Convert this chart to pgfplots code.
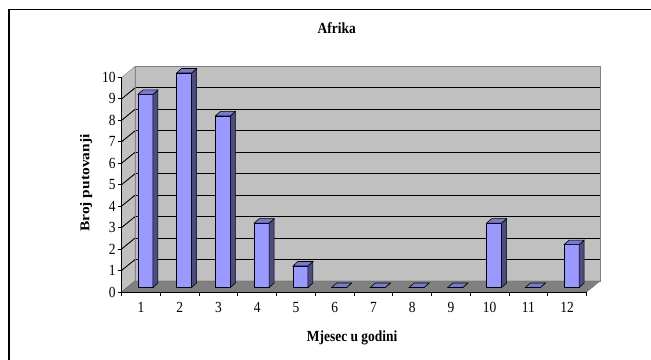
\documentclass[border=0pt]{standalone}
\usepackage{fontspec}
\setmainfont{Liberation Serif}
\usepackage{graphicx}
\usepackage{pgfplots}
\usepackage{pgfplotstable}
\pgfplotsset{compat=1.18}

\definecolor{wall}{HTML}{C0C0C0}
\definecolor{floorc}{HTML}{808080}
\definecolor{barfront}{HTML}{9999FF}
\definecolor{bartop}{HTML}{7878CC}
\definecolor{barside}{HTML}{4C4C80}

\newcommand\st[1]{\scalebox{1}[1.15]{#1}}

\pgfplotstableread{
x y
1 9
2 10
3 8
4 3
5 1
6 0
7 0
8 0
9 0
10 3
11 0
12 2
}\afrika

% side and top faces of a bar, drawn at the top middle of its front face
\pgfdeclareplotmark{cubetop}{%
  \pgfmathsetmacro\hh{\rawy*21.45}%
  \pgfsetfillcolor{barside}%
  \pgfpathmoveto{\pgfpoint{7.5bp}{0bp}}%
  \pgfpathlineto{\pgfpoint{12.5bp}{4.5bp}}%
  \pgfpathlineto{\pgfpoint{12.5bp}{4.5bp-\hh bp}}%
  \pgfpathlineto{\pgfpoint{7.5bp}{-\hh bp}}%
  \pgfpathclose
  \pgfusepath{fill,stroke}%
  \pgfsetfillcolor{bartop}%
  \pgfpathmoveto{\pgfpoint{-7.5bp}{0bp}}%
  \pgfpathlineto{\pgfpoint{7.5bp}{0bp}}%
  \pgfpathlineto{\pgfpoint{12.5bp}{4.5bp}}%
  \pgfpathlineto{\pgfpoint{-2.5bp}{4.5bp}}%
  \pgfpathclose
  \pgfusepath{fill,stroke}%
}

\pgfplotsset{
  box/.style={scale only axis, width=465bp, height=214.5bp,
    xmin=0.5, xmax=12.5, ymin=0, ymax=10, anchor=south west},
}

\begin{document}
\begin{tikzpicture}
\useasboundingbox (0,0) rectangle (651bp,360bp);
\draw[line width=1.5bp] (9bp,0) -- (9bp,350.5bp) -- (651bp,350.5bp);

% back wall
\begin{axis}[box, at={(135bp,79bp)},
  axis background/.style={fill=wall},
  axis line style={draw=floorc},
  xtick=\empty, ytick={1,...,9}, yticklabels={},
  major tick length=0pt,
  ymajorgrids, grid style={black, line width=0.9bp}]
\end{axis}

% left wall and floor
\fill[wall, draw=floorc] (121.5bp,68bp) -- (135bp,79bp) -- (135bp,293.5bp) -- (121.5bp,282.5bp) -- cycle;
\foreach \k in {1,...,9}
  \draw[black, line width=0.9bp] (121.5bp,68bp+\k*21.45bp) -- ++(13.5bp,11bp);
\fill[floorc, draw=gray!80!black] (121.5bp,68bp) -- (586.5bp,68bp) -- (600bp,79bp) -- (135bp,79bp) -- cycle;

% bars
\begin{axis}[box, at={(126bp,72.5bp)}, hide axis, clip=false]
\addplot[ybar, bar width=15bp, fill=barfront, draw=black, line width=0.6bp]
  table[x=x, y=y] {\afrika};
\addplot[only marks, mark=cubetop, draw=black, line width=0.6bp,
  visualization depends on={y \as \rawy}]
  table[x=x, y=y] {\afrika};
\end{axis}

% front axis
\begin{axis}[box, at={(121.5bp,68bp)},
  axis x line*=bottom, axis y line*=left,
  axis line style={black, line width=0.9bp},
  tick style={black, line width=0.9bp},
  tick align=outside, major tick length=4bp,
  xtick={0.5,1.5,...,12.5},
  xticklabels={\st{1},\st{2},\st{3},\st{4},\st{5},\st{6},\st{7},\st{8},\st{9},\st{10},\st{11},\st{12},{}},
  xticklabel style={xshift=19.375bp, yshift=-3bp},
  ytick={0,...,10},
  yticklabels={\st{0},\st{1},\st{2},\st{3},\st{4},\st{5},\st{6},\st{7},\st{8},\st{9},\st{10}},
  yticklabel style={xshift=1.5bp},
  tick label style={font=\fontsize{13.5}{15}\selectfont},
  title={\st{Afrika}},
  title style={at={(axis description cs:0.463,1.2)}, anchor=center,
    font=\bfseries\fontsize{13.5}{16}\selectfont},
  xlabel={\st{Mjesec u godini}},
  xlabel style={at={(axis description cs:0.496,-0.212)}, anchor=center,
    font=\bfseries\fontsize{13.5}{16}\selectfont},
  ylabel={\scalebox{1.15}[1]{Broj putovanji}},
  ylabel style={at={(axis description cs:-0.076,0.508)}, anchor=center, rotate=0,
    font=\bfseries\fontsize{13.5}{16}\selectfont}]
\end{axis}
\end{tikzpicture}
\end{document}
